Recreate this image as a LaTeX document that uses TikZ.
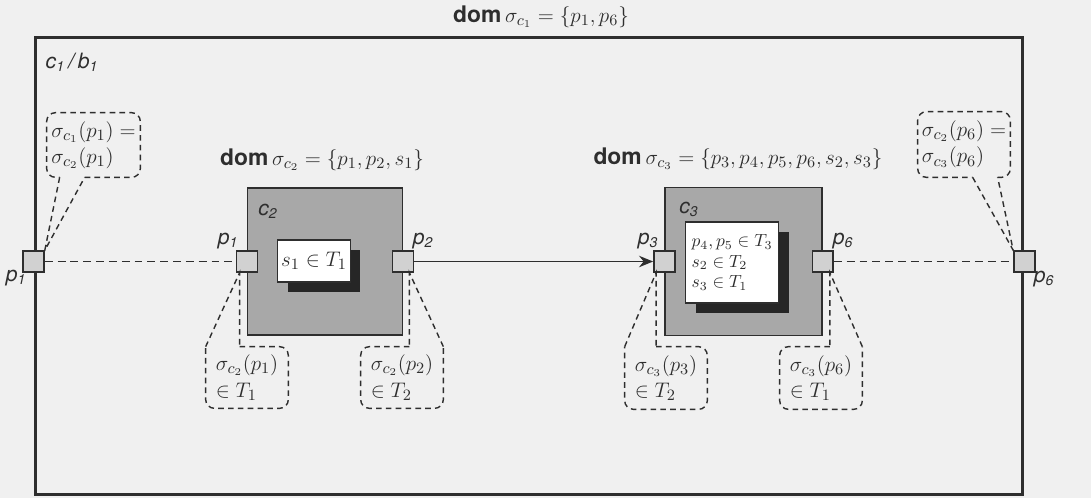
\documentclass[tikz,border=0pt]{standalone}
\usepackage{amsmath}
\usepackage{fontspec}
\setsansfont{TeX Gyre Heros}
\usepackage{tikz}
\usetikzlibrary{arrows.meta, calc, shadows}

\definecolor{paper}{gray}{0.94}
\definecolor{ink}{gray}{0.18}
\definecolor{compfill}{gray}{0.66}
\definecolor{portfill}{gray}{0.82}

\newcommand{\domop}{\textsf{\textbf{dom}}}
\newcommand{\slab}[2]{#1\textsubscript{#2}}

\tikzset{
  outer/.style={draw=ink, line width=1.7pt, minimum width=19.76cm, minimum height=9.16cm, inner sep=0pt},
  comp/.style={draw=ink, fill=compfill, line width=0.8pt, inner sep=0pt},
  setbox/.style={draw=ink, fill=white, line width=0.8pt, inner sep=2pt,
    drop shadow={shadow xshift=0.2cm, shadow yshift=-0.2cm, opacity=1, fill=black!85}},
  port/.style={draw=ink, fill=portfill, line width=0.8pt, minimum size=0.42cm, inner sep=0pt},
  lbl/.style={font=\fontsize{12}{14}\selectfont\sffamily\itshape},
  domlbl/.style={font=\fontsize{13}{15}\selectfont},
  callout/.style={draw=ink, line width=0.8pt, dash pattern=on 3.2pt off 2.4pt, rounded corners=5pt},
  tail/.style={draw=ink, line width=0.8pt, dash pattern=on 3.2pt off 2.4pt},
  note/.style={align=left, inner sep=1pt},
  link/.style={draw=ink, line width=0.8pt, dash pattern=on 4.5pt off 2.8pt},
}

\begin{document}
\begin{tikzpicture}[x=0.02cm, y=-0.02cm, >=Stealth, font=\fontsize{12.5}{15}\selectfont, text=ink]
% Page
\fill[paper] (0,0) rectangle (1091,498);
\useasboundingbox (0,0) rectangle (1091,498);

% Outer composite c1
\node[outer] (c1) at (529,266) {};
\node[domlbl] (domc1) at (541,17) {\domop\,$\sigma_{c_1} = \{p_1, p_6\}$};
\node[lbl] (c1lbl) at (72,62) {\slab{c}{1}\,/\,\slab{b}{1}};

% Composite c2
\node[domlbl] (domc2) at (322,160) {\domop\,$\sigma_{c_2} = \{p_1, p_2, s_1\}$};
\node[comp, minimum width=3.1cm, minimum height=2.94cm] (c2) at (325,261.5) {};
\node[lbl] (c2lbl) at (268,211) {\slab{c}{2}};
\node[setbox, minimum width=1.46cm, minimum height=0.84cm] (s1) at (314,261) {$s_1 \in T_1$};

% Composite c3
\node[domlbl] (domc3) at (738,159) {\domop\,$\sigma_{c_3} = \{p_3, p_4, p_5, p_6, s_2, s_3\}$};
\node[comp, minimum width=3.14cm, minimum height=2.96cm] (c3) at (743.5,261.5) {};
\node[lbl] (c3lbl) at (689,209) {\slab{c}{3}};
\node[setbox, minimum width=1.86cm, minimum height=1.62cm,
  font=\fontsize{10}{11.5}\selectfont, align=left] (s23) at (732,262.5)
  {$p_4, p_5 \in T_3$\\ $s_2 \in T_2$\\ $s_3 \in T_1$};

% Ports
\node[port] (p1o) at (c1.west |- c2.west) {};
\node[port] (p1i) at (c2.west) {};
\node[port] (p2) at (c2.east) {};
\node[port] (p3) at (c3.west) {};
\node[port] (p6i) at (c3.east) {};
\node[port] (p6o) at (c1.east |- c3.east) {};
\node[lbl] at (16,278) {\slab{p}{1}};
\node[lbl] at (228,241) {\slab{p}{1}};
\node[lbl] at (423,241) {\slab{p}{2}};
\node[lbl] at (648,241) {\slab{p}{3}};
\node[lbl] at (843,241) {\slab{p}{6}};
\node[lbl] at (1044,279) {\slab{p}{6}};

% Connections
\draw[link] (p1o) -- (p1i);
\draw[-{Stealth[length=8pt, width=6.5pt]}, draw=ink, line width=0.8pt] (p2) -- (p3);
\draw[link] (p6i) -- (p6o);

% Callouts on the outer ports
\node[note, minimum width=1.86cm, minimum height=1.28cm] (cl1) at (93.5,145)
  {$\sigma_{c_1}(p_1) =$\\ $\sigma_{c_2}(p_1)$};
\draw[callout] ($(cl1.south west)+(38,0)$) -- (cl1.south east) -- (cl1.north east)
  -- (cl1.north west) -- (cl1.south west) -- ($(cl1.south west)+(13,0)$);
\draw[tail] ($(cl1.south west)+(13,0)$) -- (p1o.north east) -- ($(cl1.south west)+(38,0)$);

\node[note, minimum width=1.84cm, minimum height=1.3cm] (cr1) at (964,144.5)
  {$\sigma_{c_2}(p_6) =$\\ $\sigma_{c_3}(p_6)$};
\draw[callout] ($(cr1.south west)+(80,0)$) -- (cr1.south east) -- (cr1.north east)
  -- (cr1.north west) -- (cr1.south west) -- ($(cr1.south west)+(55,0)$);
\draw[tail] ($(cr1.south west)+(55,0)$) -- (p6o.north west) -- ($(cr1.south west)+(80,0)$);

% Callouts on the inner ports
\node[note, minimum width=1.64cm, minimum height=1.22cm] (cb1) at (247,377.5)
  {$\sigma_{c_2}(p_1)$\\ $\in T_1$};
\coordinate (t1) at ($(p1i.south west)+(4,0)$);
\draw[callout] (cb1.north west -| t1) -- (cb1.north east) -- (cb1.south east)
  -- (cb1.south west) -- (cb1.north west);
\draw[tail] (cb1.north west) -- (t1) -- (cb1.north west -| t1);

\node[note, minimum width=1.64cm, minimum height=1.22cm] (cb2) at (402,377.5)
  {$\sigma_{c_2}(p_2)$\\ $\in T_2$};
\coordinate (t2) at ($(p2.south east)+(-5,0)$);
\draw[callout] (cb2.north west -| t2) -- (cb2.north west) -- (cb2.south west)
  -- (cb2.south east) -- (cb2.north east);
\draw[tail] (cb2.north east) -- (t2) -- (cb2.north west -| t2);

\node[note, minimum width=1.64cm, minimum height=1.24cm] (cb3) at (666,378)
  {$\sigma_{c_3}(p_3)$\\ $\in T_2$};
\coordinate (t3) at ($(p3.south west)+(3,0)$);
\draw[callout] (cb3.north west -| t3) -- (cb3.north east) -- (cb3.south east)
  -- (cb3.south west) -- (cb3.north west);
\draw[tail] (cb3.north west) -- (t3) -- (cb3.north west -| t3);

\node[note, minimum width=1.64cm, minimum height=1.24cm] (cb4) at (821,378)
  {$\sigma_{c_3}(p_6)$\\ $\in T_1$};
\coordinate (t4) at ($(p6i.south east)+(-4,0)$);
\draw[callout] (cb4.north west -| t4) -- (cb4.north west) -- (cb4.south west)
  -- (cb4.south east) -- (cb4.north east);
\draw[tail] (cb4.north east) -- (t4) -- (cb4.north west -| t4);

\end{tikzpicture}
\end{document}
